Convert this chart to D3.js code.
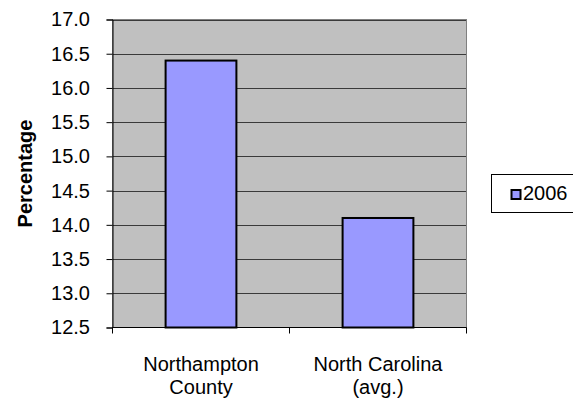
<!DOCTYPE html>
<html><head><meta charset="utf-8">
<script src="https://cdn.jsdelivr.net/npm/d3@7"></script>
<style>body{margin:0;background:#fff;} svg{display:block;font-family:"Liberation Sans",Arial,sans-serif;}</style>
</head><body>
<svg id="c" width="573" height="402"></svg>
<script>
const categories = [["Northampton","County"],["North Carolina","(avg.)"]];
const values2006 = [16.4, 14.1];
const yTicks = [12.5,13.0,13.5,14.0,14.5,15.0,15.5,16.0,16.5,17.0];
const seriesName = "2006";
const yTitle = "Percentage";

const svg = d3.select("#c");
const L=112.5, R=466.5, T=19.5, B=327.5;
const x = d3.scaleBand().domain(d3.range(categories.length)).range([L,R]).paddingInner(0.6).paddingOuter(0.3);
const y = d3.scaleLinear().domain([12.5,17]).range([B,T]);

svg.append("rect").attr("x",L).attr("y",T).attr("width",R-L).attr("height",B-T).attr("fill","#c0c0c0");
svg.append("g").selectAll("line").data(yTicks.slice(1)).join("line")
  .attr("x1",L).attr("x2",R).attr("y1",d=>Math.round(y(d))+0.5).attr("y2",d=>Math.round(y(d))+0.5)
  .attr("stroke","#3a3a3a").attr("stroke-width",1);
svg.append("rect").attr("x",L).attr("y",T).attr("width",R-L).attr("height",B-T).attr("fill","none").attr("stroke","#808080").attr("stroke-width",1);
svg.append("g").selectAll("rect").data(values2006).join("rect")
  .attr("x",(d,i)=>x(i)).attr("width",x.bandwidth())
  .attr("y",d=>y(d)).attr("height",d=>B-y(d))
  .attr("fill","#9999ff").attr("stroke","#000").attr("stroke-width",2);
const ya = d3.axisLeft(y).tickValues(yTicks).tickFormat(d3.format(".1f")).tickSize(6).tickPadding(16.5);
const gy = svg.append("g").attr("transform",`translate(${L},0)`).call(ya);
gy.attr("font-size",null).attr("font-family",null);
gy.select(".domain").attr("stroke","#000");
gy.selectAll(".tick line").attr("stroke","#000");
gy.selectAll("text").style("font-size","20px").attr("fill","#000");
const xs = d3.scalePoint().domain(d3.range(categories.length+1)).range([L,R]);
const gx = svg.append("g").attr("transform",`translate(0,${B})`);
gx.append("line").attr("x1",L).attr("x2",R).attr("stroke","#000");
gx.selectAll(".t").data(d3.range(categories.length+1)).join("line").attr("class","t")
  .attr("x1",d=>xs(d)).attr("x2",d=>xs(d)).attr("y1",0).attr("y2",6).attr("stroke","#000");
const lbl = svg.append("g").selectAll("text").data(categories).join("text")
  .attr("text-anchor","middle").style("font-size","20px").attr("fill","#000")
  .attr("x",(d,i)=>x(i)+x.bandwidth()/2).attr("y",371);
lbl.selectAll("tspan").data(d=>d).join("tspan")
  .attr("x",function(){return this.parentNode.getAttribute("x");})
  .attr("dy",(d,i)=>i?23:0).text(d=>d);
svg.append("text").attr("transform",`translate(32,${(T+B)/2}) rotate(-90)`)
  .attr("text-anchor","middle").style("font-size","20px").attr("font-weight","bold").text(yTitle);
const lg = svg.append("g");
lg.append("rect").attr("x",491.5).attr("y",174.5).attr("width",90).attr("height",38).attr("fill","#fff").attr("stroke","#000");
lg.append("rect").attr("x",511.5).attr("y",190).attr("width",9).attr("height",9).attr("fill","#9999ff").attr("stroke","#000").attr("stroke-width",2);
lg.append("text").attr("x",523).attr("y",200).style("font-size","20px").text(seriesName);
</script>
</body></html>
